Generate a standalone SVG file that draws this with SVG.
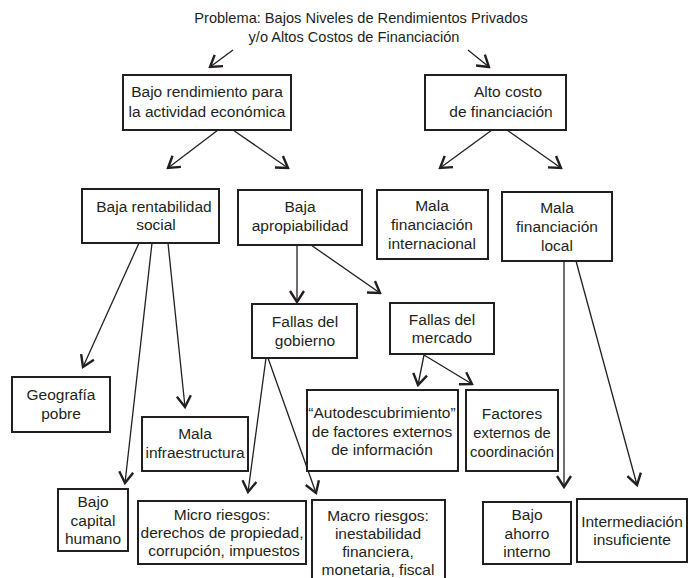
<svg xmlns="http://www.w3.org/2000/svg" width="694" height="578" viewBox="0 0 694 578">
<defs>
<style>
.bx rect{fill:#fff;stroke:#231f20;stroke-width:2}
text{font-family:"Liberation Sans",Arial,sans-serif;font-size:15.5px;fill:#231f20;text-anchor:middle}
#title text{font-size:14.6px}
.cn line{stroke:#231f20;stroke-width:1.3;marker-end:url(#ah)}
</style>
<marker id="ah" markerUnits="userSpaceOnUse" viewBox="-13 -9 15 18" refX="0" refY="0" markerWidth="15" markerHeight="18" orient="auto">
<path d="M-11,-7 L0,0 L-11,7" fill="none" stroke="#231f20" stroke-width="2.4" stroke-linejoin="miter"/>
</marker>
</defs>
<rect width="694" height="578" fill="#fff"/>
<g id="title">
<text x="361" y="23">Problema: Bajos Niveles de Rendimientos Privados</text>
<text x="354" y="42">y/o Altos Costos de Financiación</text>
</g>
<g class="cn" id="connectors">
<line x1="233" y1="50" x2="210" y2="67"/>
<line x1="468" y1="50" x2="489" y2="67"/>
<line x1="218" y1="130" x2="168" y2="168"/>
<line x1="233" y1="130" x2="288" y2="168"/>
<line x1="492" y1="130" x2="440" y2="168"/>
<line x1="507" y1="130" x2="561" y2="168"/>
<line x1="139" y1="243" x2="83" y2="367"/>
<line x1="152" y1="243" x2="125" y2="483"/>
<line x1="168" y1="243" x2="185" y2="407"/>
<line x1="297" y1="245" x2="297" y2="302"/>
<line x1="311" y1="245" x2="380" y2="293"/>
<line x1="266" y1="358" x2="248" y2="492"/>
<line x1="268" y1="358" x2="316" y2="493"/>
<line x1="424" y1="355" x2="418" y2="385"/>
<line x1="424" y1="355" x2="472" y2="384"/>
<line x1="564" y1="261" x2="564" y2="487"/>
<line x1="576" y1="261" x2="637" y2="485"/>
</g>
<g class="bx" id="n-bajo-rendimiento">
<rect x="123" y="75" width="168" height="55"/>
<text x="207" y="97">Bajo rendimiento para</text>
<text x="207" y="117">la actividad económica</text>
</g>
<g class="bx" id="n-alto-costo">
<rect x="425" y="75" width="141" height="55"/>
<text x="508" y="97">Alto costo</text>
<text x="501" y="117">de financiación</text>
</g>
<g class="bx" id="n-baja-rentabilidad">
<rect x="82" y="189" width="137" height="54"/>
<text x="154" y="212">Baja rentabilidad</text>
<text x="156" y="230">social</text>
</g>
<g class="bx" id="n-baja-apropiabilidad">
<rect x="238" y="190" width="124" height="55"/>
<text x="300" y="212">Baja</text>
<text x="300" y="231">apropiabilidad</text>
</g>
<g class="bx" id="n-mala-fin-int">
<rect x="377" y="190" width="111" height="69"/>
<text x="432" y="211">Mala</text>
<text x="432" y="230">financiación</text>
<text x="432" y="249">internacional</text>
</g>
<g class="bx" id="n-mala-fin-local">
<rect x="502" y="192" width="110" height="69"/>
<text x="557" y="213">Mala</text>
<text x="557" y="232">financiación</text>
<text x="557" y="251">local</text>
</g>
<g class="bx" id="n-geografia">
<rect x="12" y="377" width="98" height="55"/>
<text x="61" y="400">Geografía</text>
<text x="61" y="419">pobre</text>
</g>
<g class="bx" id="n-infra">
<rect x="142" y="417" width="106" height="54"/>
<text x="195" y="439">Mala</text>
<text x="195" y="458">infraestructura</text>
</g>
<g class="bx" id="n-capital">
<rect x="58" y="489" width="70" height="62"/>
<text x="93" y="507">Bajo</text>
<text x="93" y="526">capital</text>
<text x="93" y="544">humano</text>
</g>
<g class="bx" id="n-gobierno">
<rect x="252" y="304" width="105" height="54"/>
<text x="305" y="327">Fallas del</text>
<text x="305" y="346">gobierno</text>
</g>
<g class="bx" id="n-mercado">
<rect x="390" y="303" width="104" height="51"/>
<text x="442" y="325">Fallas del</text>
<text x="442" y="343">mercado</text>
</g>
<g class="bx" id="n-autodescubrimiento">
<rect x="307" y="390" width="151" height="81"/>
<text x="382" y="418">“Autodescubrimiento”</text>
<text x="382" y="437">de factores externos</text>
<text x="382" y="455">de información</text>
</g>
<g class="bx" id="n-factores">
<rect x="466" y="390" width="92" height="81"/>
<text x="512" y="419">Factores</text>
<text x="512" y="438" style="font-size:14.8px">externos de</text>
<text x="512" y="457" style="font-size:14.8px">coordinación</text>
</g>
<g class="bx" id="n-micro">
<rect x="138" y="501" width="168" height="63"/>
<text x="222" y="520">Micro riesgos:</text>
<text x="222" y="538">derechos de propiedad,</text>
<text x="224" y="556">corrupción, impuestos</text>
</g>
<g class="bx" id="n-macro">
<rect x="312" y="500" width="133" height="92"/>
<text x="378" y="521">Macro riesgos:</text>
<text x="378" y="539">inestabilidad</text>
<text x="378" y="557">financiera,</text>
<text x="378" y="575">monetaria, fiscal</text>
</g>
<g class="bx" id="n-ahorro">
<rect x="483" y="502" width="88" height="62"/>
<text x="527" y="520">Bajo</text>
<text x="527" y="539">ahorro</text>
<text x="527" y="557">interno</text>
</g>
<g class="bx" id="n-intermediacion">
<rect x="577" y="499" width="110" height="63"/>
<text x="632" y="527">Intermediación</text>
<text x="632" y="545">insuficiente</text>
</g>
</svg>
